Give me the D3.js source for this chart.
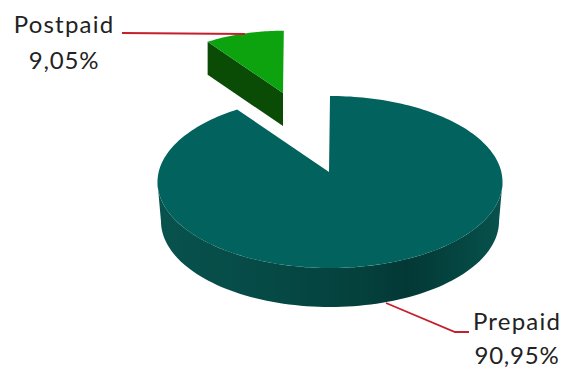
<!DOCTYPE html>
<html>
<head>
<meta charset="utf-8">
<script src="https://cdn.jsdelivr.net/npm/d3@7"></script>
<style>
  html, body { margin: 0; padding: 0; background: #fff; overflow: hidden; }
  svg { display: block; }
  text { font-family: Lato, "Open Sans", sans-serif; fill: #222; }
</style>
</head>
<body>
<svg id="chart" width="563" height="370"></svg>
<script>
// Subscriber split shown as a tilted 3D pie with the smaller slice pulled out.
const categories = ["Prepaid", "Postpaid"];
const shares = [90.95, 9.05];
const shareLabels = ["90,95%", "9,05%"];

const width = 563, height = 370;
const rx = 172.5, ry = 86;          // top-face ellipse radii
const ellipse = { x: 330, y: 182 }; // ellipse centre on screen
const apex = { x: 329, y: 172 };    // where the slices meet; sits above the centre because of the tilt
const depth = 39;
const baseNarrowing = 0.98;         // the lower rim reads slightly narrower in perspective

const svg = d3.select("#chart").attr("viewBox", [0, 0, width, height]);

const slices = d3.pie().sort(null)(shares);

// Angle (clockwise from 12 o'clock) to a point on the rim of the tilted disc.
const rim = a => [ellipse.x + rx * Math.sin(a), ellipse.y - ry * Math.cos(a)];
const line = d3.line();
const arcPoints = (a0, a1, n = 90) =>
  d3.range(n + 1).map(i => rim(a0 + (a1 - a0) * i / n));
const shifted = (pts, dy) => pts.map(([x, y]) => [x, y + dy]);
const lowered = pts => pts.map(([x, y]) => [ellipse.x + (x - ellipse.x) * baseNarrowing, y + depth]);

// Front wall shading of the main slice.
const defs = svg.append("defs");
const wallGrad = defs.append("linearGradient").attr("id", "wall")
  .attr("gradientUnits", "userSpaceOnUse")
  .attr("x1", ellipse.x - rx).attr("x2", ellipse.x + rx).attr("y1", 0).attr("y2", 0);
[[0, "#08524d"], [0.3, "#064a46"], [0.6, "#04403c"], [0.72, "#033835"], [0.88, "#054642"], [1, "#08524d"]]
  .forEach(([o, c]) => wallGrad.append("stop").attr("offset", o).attr("stop-color", c));

// Main slice: wall first, top face over it.
const main = slices[0];
const frontArc = arcPoints(Math.PI / 2, Math.PI * 1.5);
svg.append("path")
  .attr("d", line([...frontArc, ...lowered(frontArc).reverse()]) + "Z")
  .attr("fill", "url(#wall)");
svg.append("path")
  .attr("d", line([[apex.x, apex.y], ...arcPoints(main.startAngle, main.endAngle, 240)]) + "Z")
  .attr("fill", "#02635e");

// Pulled-out slice: smaller by perspective and shifted up and to the left.
const pull = { x: 283, y: 93, scale: 0.82, depth: 33 };
const toPulled = ([x, y]) => [
  pull.x + (x - apex.x) * pull.scale,
  pull.y + (y - apex.y) * pull.scale
];
const minor = slices[1];
const minorRim = arcPoints(minor.startAngle, minor.endAngle, 30).map(toPulled);
const minorTip = [pull.x, pull.y];
const cutEdge = [minorRim[0], minorTip];
svg.append("path")
  .attr("d", line([...cutEdge, ...shifted(cutEdge, pull.depth).reverse()]) + "Z")
  .attr("fill", "#0a4c06");
svg.append("path")
  .attr("d", line([minorTip, ...minorRim]) + "Z")
  .attr("fill", "#0ca30e");

// Leader lines.
const leaders = [
  [[386, 303], [455, 332], [469, 332]],
  [[122, 33], [245, 34]]
];
leaders.forEach(pts => svg.append("path")
  .attr("d", line(pts))
  .attr("fill", "none")
  .attr("stroke", "#c41f2a")
  .attr("stroke-width", 1.8));

// Category and share labels.
const labelPos = [
  { x: 517, y1: 330, y2: 364 },
  { x: 64, y1: 33, y2: 69 }
];
categories.forEach((c, i) => {
  const p = labelPos[i];
  svg.append("text").attr("x", p.x).attr("y", p.y1)
    .attr("text-anchor", "middle").attr("font-size", 24).attr("letter-spacing", 1.2).text(c);
  svg.append("text").attr("x", p.x).attr("y", p.y2)
    .attr("text-anchor", "middle").attr("font-size", 24).attr("letter-spacing", 0.8).text(shareLabels[i]);
});
</script>
</body>
</html>
